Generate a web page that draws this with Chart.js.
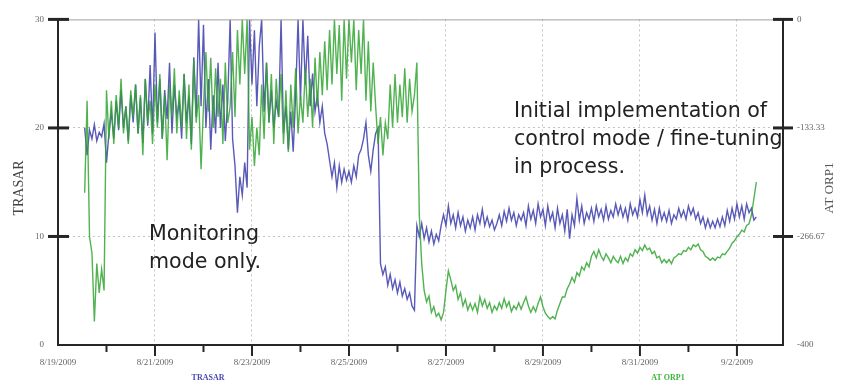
<!DOCTYPE html>
<html>
<head>
<meta charset="utf-8">
<script src="https://cdn.jsdelivr.net/npm/chart.js@4"></script>
<style>
  body { margin: 0; background: #fff; }
  #wrap { position: relative; width: 863px; height: 385px; }
  canvas { position: absolute; left: 0; top: 0; }
  .note { position: absolute; font-family: 'DejaVu Sans', sans-serif; font-size: 20.6px; line-height: 28px; color: #222; white-space: nowrap; }
</style>
</head>
<body>
<div id="wrap">
  <canvas id="trasarChart" width="863" height="385"></canvas>
  <div class="note" style="left:149px; top:219px;">Monitoring<br>mode only.</div>
  <div class="note" style="left:514px; top:96px;">Initial implementation of<br>control mode / fine-tuning<br>in process.</div>
</div>
<script>
// Time axis: days after 8/19/2009, one reading every 0.05 day
const startDay = 0.55;
const stepDay = 0.05;
const tickDays = [0, 2, 4, 6, 8, 10, 12, 14];
const dateLabels = ['8/19/2009', '8/21/2009', '8/23/2009', '8/25/2009', '8/27/2009', '8/29/2009', '8/31/2009', '9/2/2009'];
const trasarTicks = [0, 10, 20, 30];
const trasarTickLabels = ['0', '10', '20', '30'];
const orpTicks = [-400, -266.67, -133.33, 0];
const orpTickLabels = ['-400', '-266.67', '-133.33', '0'];

// TRASAR readings (left axis)
const trasar = [
    20.0, 17.5, 19.8, 19.0, 20.3, 18.8, 19.6, 19.2, 20.4, 16.8, 19.5, 21.5, 19.0, 22.5, 19.8, 23.5, 20.0, 22.0, 18.8, 23.0,
    20.5, 24.0, 19.5, 22.8, 18.6, 24.5, 20.2, 25.8, 19.5, 28.8, 20.5, 24.5, 19.0, 23.5, 20.8, 26.0, 19.5, 24.0, 21.0, 22.5,
    19.0, 25.0, 20.5, 23.0, 18.5, 26.5, 21.0, 30.0, 22.0, 29.5, 20.0, 24.5, 18.0, 23.0, 19.5, 26.0, 20.0, 24.0, 18.8, 22.5,
    30.0, 19.0, 16.5, 12.2, 15.5, 13.8, 16.8, 14.5, 30.0, 24.0, 29.0, 22.0, 27.5, 30.0, 21.5, 26.0, 20.5, 23.5, 20.0, 22.5,
    21.0, 30.0, 19.5, 22.0, 18.0, 21.5, 17.8, 23.0, 30.0, 22.5, 30.0, 24.0, 28.5, 22.0, 25.0, 21.5, 23.0, 20.5, 22.0, 19.5,
    18.5, 17.0, 15.5, 16.8, 14.5, 16.5, 15.0, 16.2, 15.2, 16.0, 15.0, 16.5, 15.5, 17.5, 18.0, 19.0, 20.5, 17.5, 16.0, 18.0,
    19.5, 20.0, 7.5, 6.5, 7.2, 5.5, 6.5, 5.2, 6.0, 4.8, 5.8, 4.5, 5.2, 4.2, 4.8, 3.6, 3.2, 11.0, 10.0, 11.2,
    9.8, 10.8, 9.5, 10.5, 9.3, 10.2, 9.6, 11.0, 12.0, 11.0, 12.8, 11.2, 12.0, 10.8, 12.2, 11.0, 11.8, 10.5, 11.5, 10.8,
    11.8, 10.6, 12.0, 11.2, 12.5, 11.0, 11.8, 10.9, 11.5, 10.6, 11.2, 12.0, 11.0, 12.3, 11.4, 12.6, 11.5, 12.2, 11.0, 12.0,
    11.5, 12.2, 11.0, 12.8, 11.6, 12.4, 11.2, 13.0, 11.8, 12.5, 11.0, 12.8, 11.5, 12.2, 10.8, 12.6, 11.2, 12.0, 10.5, 12.5,
    9.8, 12.0, 11.0, 13.5, 11.5, 12.8, 11.2, 12.2, 11.6, 12.6, 11.4, 12.8, 11.8, 12.5, 11.5, 12.8, 11.6, 12.4, 11.8, 13.0,
    12.0, 12.8, 11.8, 12.6, 11.5, 13.0, 12.0, 12.6, 11.8, 13.4, 12.2, 13.8, 12.0, 12.8, 11.5, 12.5, 11.2, 12.6, 11.5, 12.2,
    11.4, 12.4, 11.2, 12.0, 11.6, 12.6, 11.8, 12.4, 11.6, 12.8, 12.0, 12.6, 11.6, 12.2, 11.2, 11.8, 10.8, 11.6, 10.8, 11.4,
    10.8, 11.6, 10.9, 11.8, 11.0, 12.4, 11.4, 12.6, 11.6, 13.0, 11.8, 12.8, 11.6, 13.0, 12.2, 12.6, 11.5, 11.8
];

// AT ORP1 readings (right axis)
const orp = [
    -213, -100, -267, -287, -371, -300, -336, -307, -333, -87, -147, -100, -153, -93, -133, -73, -140, -107, -153, -87,
    -120, -80, -140, -93, -167, -73, -127, -100, -153, -80, -133, -67, -147, -93, -173, -80, -120, -60, -140, -87,
    -133, -67, -147, -80, -160, -49, -127, -93, -184, -107, -40, -113, -47, -133, -60, -120, -73, -153, -53, -127,
    -107, -40, -120, -13, -80, 0, -67, 0, -160, -120, -180, -133, -167, -80, -147, -53, -127, -67, -153, -73,
    -120, -67, -153, -87, -163, -80, -133, -60, -140, -93, -127, -60, -120, -73, -133, -47, -107, -40, -93, -27,
    -87, -13, -80, 0, -67, -7, -100, 0, -73, 0, -53, 0, -87, -13, -67, 0, -100, -27, -113, -53,
    -107, -153, -120, -167, -127, -147, -80, -133, -67, -127, -80, -120, -60, -127, -73, -113, -93, -53, -240, -300,
    -333, -347, -340, -360, -353, -365, -361, -369, -360, -333, -309, -320, -333, -327, -344, -336, -352, -344, -357, -349,
    -357, -349, -360, -341, -352, -344, -355, -348, -360, -352, -357, -348, -355, -343, -353, -347, -359, -352, -356, -348,
    -356, -348, -341, -352, -360, -353, -359, -349, -341, -353, -361, -365, -368, -365, -368, -357, -349, -341, -341, -331,
    -325, -317, -323, -311, -315, -304, -308, -299, -304, -291, -285, -293, -283, -291, -296, -288, -293, -299, -291, -296,
    -299, -291, -300, -293, -297, -288, -291, -283, -287, -280, -284, -277, -283, -281, -288, -285, -293, -291, -299, -295,
    -299, -295, -300, -293, -291, -288, -289, -284, -285, -280, -283, -277, -279, -276, -283, -285, -291, -293, -296, -293,
    -296, -292, -293, -288, -289, -285, -281, -275, -272, -267, -264, -259, -261, -253, -251, -240, -220, -200
];

const toPoints = arr => arr.map((v, i) => ({ x: startDay + i * stepDay, y: v }));

const tickFont = { family: 'Liberation Serif', size: 9 };
const gridColor = '#c4c4c4';

// Frame, tick marks, axis titles and legend text
const framePlugin = {
    id: 'frame',
    afterDraw(chart) {
        const { ctx, chartArea: a, scales } = chart;
        const line = (x1, y1, x2, y2) => {
            ctx.beginPath();
            ctx.moveTo(x1, y1);
            ctx.lineTo(x2, y2);
            ctx.stroke();
        };
        ctx.save();
        ctx.strokeStyle = '#a0a0a0';
        ctx.lineWidth = 1;
        line(a.left, a.top + 0.5, a.right, a.top + 0.5);

        ctx.strokeStyle = '#262626';
        ctx.lineWidth = 2;
        line(a.left, a.top, a.left, a.bottom + 1);
        line(a.left - 1, a.bottom, a.right + 1, a.bottom);
        line(a.right, a.top, a.right, a.bottom + 1);

        // y tick marks cross the axis
        ctx.lineWidth = 3;
        trasarTicks.filter(v => v > 0).forEach(v => {
            const y = scales.y.getPixelForValue(v);
            line(a.left - 10, y, a.left + 11, y);
        });
        orpTicks.filter(v => v > -400).forEach(v => {
            const y = scales.orp.getPixelForValue(v);
            line(a.right - 10, y, a.right + 10, y);
        });

        // x tick marks: long on labelled days, short between
        ctx.lineWidth = 2;
        for (let d = 1; d <= 14; d++) {
            const x = scales.x.getPixelForValue(d);
            line(x, a.bottom, x, a.bottom + (d % 2 === 0 ? 11 : 7));
        }

        ctx.textAlign = 'center';
        ctx.textBaseline = 'middle';
        ctx.fillStyle = '#444';
        ctx.font = '14px "Liberation Serif"';
        ctx.save();
        ctx.translate(19, 188);
        ctx.rotate(-Math.PI / 2);
        ctx.fillText('TRASAR', 0, 0);
        ctx.restore();

        ctx.fillStyle = '#555';
        ctx.font = '13px "Liberation Serif"';
        ctx.save();
        ctx.translate(830, 188);
        ctx.rotate(-Math.PI / 2);
        ctx.fillText('AT ORP1', 0, 0);
        ctx.restore();

        ctx.font = 'bold 8px "Liberation Serif"';
        ctx.fillStyle = '#4848b0';
        ctx.fillText('TRASAR', 208, 378);
        ctx.fillStyle = '#3cb43c';
        ctx.fillText('AT ORP1', 668, 378);
        ctx.restore();
    }
};

const ctx = document.getElementById('trasarChart').getContext('2d');
const trasarChart = new Chart(ctx, {
    type: 'line',
    data: {
        datasets: [{
            label: 'AT ORP1',
            data: toPoints(orp),
            yAxisID: 'orp',
            borderColor: 'rgba(50, 165, 50, 0.85)',
            borderWidth: 1.4,
            pointRadius: 0,
            tension: 0
        }, {
            label: 'TRASAR',
            data: toPoints(trasar),
            yAxisID: 'y',
            borderColor: 'rgba(60, 60, 172, 0.85)',
            borderWidth: 1.4,
            pointRadius: 0,
            tension: 0
        }]
    },
    options: {
        responsive: false,
        animation: false,
        devicePixelRatio: 1,
        layout: { padding: { top: 12, left: 0, right: 0, bottom: 0 } },
        plugins: {
            legend: { display: false },
            tooltip: { enabled: false }
        },
        scales: {
            x: {
                type: 'linear',
                min: 0,
                max: 14.95,
                afterBuildTicks: s => { s.ticks = tickDays.map(v => ({ value: v })); },
                afterFit: s => { s.height = 40; },
                ticks: {
                    callback: (v, i) => dateLabels[i],
                    autoSkip: false,
                    maxRotation: 0,
                    padding: 12,
                    color: '#666',
                    font: tickFont
                },
                grid: {
                    color: c => (c.tick && c.tick.value === 0) ? 'rgba(0,0,0,0)' : gridColor,
                    drawTicks: false
                },
                border: { display: false, dash: [2, 3] }
            },
            y: {
                position: 'left',
                min: 0,
                max: 30,
                afterBuildTicks: s => { s.ticks = trasarTicks.map(v => ({ value: v })); },
                afterFit: s => { s.width = 58; },
                ticks: {
                    callback: (v, i) => trasarTickLabels[i],
                    padding: 14,
                    color: '#666',
                    font: tickFont
                },
                grid: {
                    color: c => (c.tick && (c.tick.value === 0 || c.tick.value === 30)) ? 'rgba(0,0,0,0)' : gridColor,
                    drawTicks: false
                },
                border: { display: false, dash: [2, 3] }
            },
            orp: {
                position: 'right',
                min: -400,
                max: 0,
                afterBuildTicks: s => { s.ticks = orpTicks.map(v => ({ value: v })); },
                afterFit: s => { s.width = 80; },
                ticks: {
                    callback: (v, i) => orpTickLabels[i],
                    padding: 14,
                    color: '#666',
                    font: tickFont
                },
                grid: { display: false, drawTicks: false },
                border: { display: false }
            }
        }
    },
    plugins: [framePlugin]
});
</script>
</body>
</html>
